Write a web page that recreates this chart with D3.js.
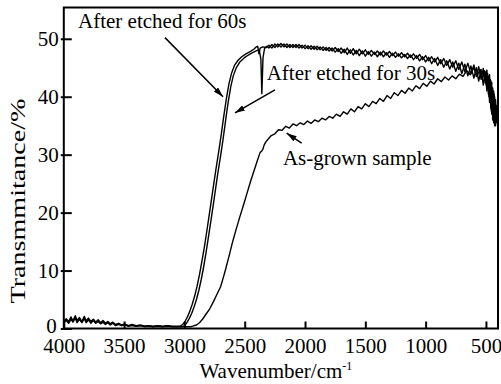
<!DOCTYPE html>
<html>
<head>
<meta charset="utf-8">
<script src="https://cdn.jsdelivr.net/npm/d3@7"></script>
<style>
  body { margin: 0; background: #fff; }
  svg { display: block; font-family: "Liberation Serif", "Times New Roman", serif; }
</style>
</head>
<body>
<div id="chart"></div>
<script>
// wavenumber (cm-1), transmittance (%)
const etched60 = [
  [4000,1.3],[3980,1.7],[3960,1.2],[3940,2.0],[3925,1.3],[3905,2.2],[3890,1.4],[3870,1.9],[3850,1.2],[3830,2.1],
  [3815,1.3],[3795,1.8],[3775,1.2],[3755,1.6],[3735,1.1],[3715,1.5],[3695,1.0],[3675,1.4],[3655,0.9],[3635,1.2],
  [3615,0.8],[3595,1.1],[3570,0.7],[3545,0.9],[3520,0.6],[3495,0.8],[3465,0.5],[3435,0.7],[3400,0.5],[3365,0.6],
  [3330,0.4],[3295,0.5],[3260,0.4],[3220,0.5],[3180,0.4],[3140,0.5],[3100,0.4],[3060,0.4],[3035,0.4],
  [3015,0.7],[2995,1.2],[2975,2.0],[2955,3.0],[2935,4.2],[2915,5.6],[2895,7.3],[2875,9.3],[2855,11.6],[2835,14.0],
  [2815,16.7],[2790,20.2],[2765,23.8],[2740,27.3],[2715,30.6],[2695,33.4],[2678,36.0],[2662,38.3],[2648,40.2],
  [2630,42.3],[2610,44.0],[2585,45.4],[2555,46.3],[2525,46.9],[2490,47.4],[2455,47.8],[2425,48.2],[2405,48.6],
  [2392,48.7],[2382,47.4],[2372,48.4],[2350,48.6],[2320,48.5],
  [2300,48.9],[2275,48.4],[2250,49.1],[2225,48.6],[2200,49.2],[2175,48.6],[2150,49.1],[2125,48.5],[2100,49.0],
  [2075,48.5],[2050,49.0],[2025,48.4],[2000,48.9],[1975,48.3],[1950,48.8],[1925,48.2],[1900,48.7],[1875,48.1],
  [1850,48.6],[1825,48.0],[1800,48.5],[1775,47.9],[1750,48.5],[1725,47.8],[1700,48.4],[1675,47.6],[1650,48.4],
  [1625,47.5],[1600,48.3],[1575,47.4],[1550,48.2],[1525,47.4],[1500,48.1],[1475,47.3],[1450,48.0],[1425,47.3],
  [1400,47.9],[1375,47.2],[1350,47.9],[1325,47.2],[1300,47.8],[1275,47.1],[1250,47.7],[1225,47.0],[1200,47.6],
  [1175,46.9],[1150,47.5],[1125,46.8],[1100,47.4],[1075,46.6],[1050,47.3],[1025,46.4],[1000,47.1],[975,46.2],
  [950,46.9],[925,46.0],[900,46.8],[875,45.7],[850,46.6],[825,45.4],[800,46.4],[775,45.1],[750,46.2],[725,44.7],
  [700,46.0],[675,44.3],[650,45.8],[625,43.9],[600,45.5],[580,43.5],[560,45.2],[540,43.0],[522,44.9],[506,42.4],
  [492,44.6],[480,40.5],[470,43.8],[460,38.0],[452,42.5],[444,36.0],[436,41.0],[428,35.0],[420,39.5],[413,35.5],
  [406,38.0],[400,36.5]
];

const etched30 = [
  [4000,1.0],[3980,1.4],[3960,0.9],[3940,1.6],[3925,1.1],[3905,1.8],[3890,1.0],[3870,1.6],[3850,1.0],[3830,1.7],
  [3815,1.0],[3795,1.5],[3775,0.9],[3755,1.4],[3735,0.9],[3715,1.2],[3695,0.8],[3675,1.1],[3655,0.7],[3635,1.0],
  [3615,0.6],[3595,0.9],[3570,0.5],[3545,0.7],[3520,0.5],[3495,0.6],[3465,0.4],[3435,0.5],[3400,0.4],[3365,0.5],
  [3330,0.3],[3295,0.4],[3260,0.3],[3220,0.4],[3180,0.3],[3140,0.4],[3100,0.3],[3060,0.3],[3020,0.3],
  [3000,0.5],[2980,1.0],[2960,1.7],[2940,2.6],[2920,3.7],[2900,5.0],[2880,6.6],[2860,8.5],[2840,10.7],[2820,13.2],
  [2800,15.9],[2775,19.3],[2750,22.9],[2725,26.5],[2700,29.8],[2680,32.6],[2663,35.2],[2648,37.5],[2633,39.6],
  [2615,41.8],[2595,43.6],[2570,45.0],[2540,46.0],[2505,46.7],[2470,47.2],[2435,47.6],[2405,47.9],[2380,48.1],
  [2366,46.5],[2358,40.5],[2348,46.8],[2335,48.4],[2315,48.7],
  [2300,48.4],[2275,49.0],[2250,48.5],[2225,49.1],[2200,48.6],[2175,49.1],[2150,48.5],[2125,49.0],[2100,48.5],
  [2075,49.0],[2050,48.4],[2025,48.9],[2000,48.3],[1975,48.8],[1950,48.2],[1925,48.7],[1900,48.1],[1875,48.6],
  [1850,48.0],[1825,48.5],[1800,47.9],[1775,48.4],[1750,47.7],[1725,48.3],[1700,47.5],[1675,48.2],[1650,47.3],
  [1625,48.1],[1600,47.2],[1575,48.0],[1550,47.1],[1525,47.9],[1500,47.0],[1475,47.8],[1450,47.0],[1425,47.7],
  [1400,46.9],[1375,47.7],[1350,46.9],[1325,47.6],[1300,46.8],[1275,47.5],[1250,46.8],[1225,47.4],[1200,46.7],
  [1175,47.3],[1150,46.6],[1125,47.2],[1100,46.4],[1075,47.1],[1050,46.2],[1025,46.9],[1000,46.0],[975,46.8],
  [950,45.7],[925,46.6],[900,45.4],[875,46.4],[850,45.1],[825,46.2],[800,44.8],[775,46.0],[750,44.4],[725,45.8],
  [700,44.0],[675,45.6],[650,43.6],[625,45.3],[600,43.2],[580,45.0],[560,42.7],[540,44.7],[522,42.0],[506,44.3],
  [492,41.0],[480,43.6],[470,39.0],[460,42.8],[452,37.0],[444,41.5],[436,35.5],[428,40.0],[420,35.0],[413,38.5],
  [406,35.8],[400,37.5]
];

const asGrown = [
  [4000,1.1],[3980,1.5],[3960,1.0],[3940,1.8],[3925,1.2],[3905,1.9],[3890,1.2],[3870,1.7],[3850,1.1],[3830,1.9],
  [3815,1.2],[3795,1.6],[3775,1.1],[3755,1.5],[3735,1.0],[3715,1.3],[3695,0.9],[3675,1.2],[3655,0.8],[3635,1.1],
  [3615,0.7],[3595,1.0],[3570,0.6],[3545,0.8],[3520,0.5],[3495,0.7],[3465,0.4],[3435,0.6],[3400,0.4],[3365,0.5],
  [3330,0.4],[3295,0.4],[3260,0.3],[3220,0.4],[3180,0.3],[3140,0.4],[3100,0.3],[3060,0.3],[3020,0.3],[2980,0.3],
  [2950,0.3],[2930,0.4],[2900,0.6],[2875,1.0],[2850,1.6],[2820,2.5],[2790,3.4],[2760,4.6],[2730,5.9],[2700,7.2],
  [2680,8.6],[2660,10.1],[2630,12.5],[2600,15.0],[2570,17.2],[2540,19.3],[2510,21.3],[2480,23.4],[2450,25.5],
  [2420,27.4],[2395,29.0],[2372,30.4],[2360,30.6],[2350,30.9],[2340,31.6],[2325,32.2],[2305,32.7],
  [2280,33.3],[2250,33.6],[2220,34.3],[2190,34.2],[2160,34.9],[2130,34.6],[2100,35.3],[2070,35.0],[2040,35.5],
  [2010,35.2],[1980,35.8],[1950,35.4],[1920,36.0],[1890,35.7],[1860,36.3],[1830,36.0],[1800,36.6],[1770,36.3],
  [1740,37.0],[1710,36.6],[1680,37.4],[1650,37.0],[1620,37.9],[1590,37.4],[1560,38.3],[1530,37.9],[1500,38.8],
  [1470,38.3],[1440,39.2],[1410,38.8],[1380,39.7],[1350,39.2],[1320,40.2],[1290,39.7],[1260,40.7],[1230,40.2],
  [1200,41.1],[1170,40.6],[1140,41.5],[1110,41.0],[1080,41.9],[1050,41.4],[1020,42.3],[990,41.8],[960,42.7],
  [930,42.2],[900,43.1],[870,42.6],[840,43.4],[810,42.9],[780,43.6],[750,43.1],[720,43.9],[690,43.5],[660,44.5],
  [630,43.8],[600,45.0],[575,43.5],[550,44.7],[530,43.0],[512,44.5],[498,42.0],[486,44.0],[475,40.0],[465,43.0],
  [455,37.5],[447,41.5],[440,36.0],[432,40.5],[424,35.5],[416,38.5],[408,36.0],[400,37.0]
];

const series = [etched60, etched30, asGrown];
const xTicks = [4000, 3500, 3000, 2500, 2000, 1500, 1000, 500];
const yTicks = [0, 10, 20, 30, 40, 50];

// annotations: text anchor and arrow (tail -> head) in data units
const notes = [
  { text: 'After etched for 60s', at: [3882, 51.9], from: [3161, 50.2], to: [2680, 40.0] },
  { text: 'After etched for 30s', at: [2318, 42.9], from: [2249, 41.2], to: [2581, 37.2] },
  { text: 'As-grown sample', at: [2183, 28.2], from: [2028, 32.0], to: [2152, 33.7] }
];

const width = 501;
const height = 384;
const margin = { top: 7.5, right: 3, bottom: 55.5, left: 63.8 };

const svg = d3.select('#chart').append('svg').attr('width', width).attr('height', height);

svg.append('defs')
  .append('marker')
  .attr('id', 'arrow')
  .attr('viewBox', '0 0 10 6')
  .attr('refX', 10)
  .attr('refY', 3)
  .attr('markerWidth', 10)
  .attr('markerHeight', 6)
  .attr('markerUnits', 'userSpaceOnUse')
  .attr('orient', 'auto')
  .append('path')
  .attr('d', 'M0,0 L10,3 L0,6 Z')
  .attr('fill', '#000');

const x = d3.scaleLinear().domain([4000, 400]).range([margin.left, width - margin.right]);
const y = d3.scaleLinear().domain([0, 55.4]).range([height - margin.bottom, margin.top]);

// curves
const line = d3.line().x((d) => x(d[0])).y((d) => y(d[1]));
svg.append('g')
  .selectAll('path')
  .data(series)
  .enter()
  .append('path')
  .attr('d', line)
  .attr('fill', 'none')
  .attr('stroke', '#000')
  .attr('stroke-width', 1.4)
  .attr('stroke-linejoin', 'round');

// axes, ticks point inward
const xAxis = svg.append('g')
  .attr('transform', `translate(0,${y(0)})`)
  .call(d3.axisBottom(x).tickValues(xTicks).tickSizeInner(-7).tickSizeOuter(0).tickPadding(10).tickFormat(d3.format('d')));
const yAxis = svg.append('g')
  .attr('transform', `translate(${x(4000)},0)`)
  .call(d3.axisLeft(y).tickValues(yTicks).tickSizeInner(-8).tickSizeOuter(0).tickPadding(5).tickFormat(d3.format('d')));

[xAxis, yAxis].forEach((g) => {
  g.select('.domain').remove();
  g.selectAll('.tick line').attr('stroke', '#000').attr('stroke-width', 2);
  g.selectAll('.tick text')
    .attr('fill', '#000')
    .style('font-family', '"Liberation Serif", serif')
    .style('font-size', '21px');
});
// small outward stub on y ticks
yAxis.selectAll('.tick').append('line').attr('x1', 0).attr('x2', -3).attr('stroke', '#000').attr('stroke-width', 2);
yAxis.selectAll('.tick text').filter((d) => d === 0).attr('dy', '0.2em').attr('x', -7);

// frame
svg.append('rect')
  .attr('x', x(4000))
  .attr('y', y(55.4))
  .attr('width', x(400) - x(4000))
  .attr('height', y(0) - y(55.4))
  .attr('fill', 'none')
  .attr('stroke', '#000')
  .attr('stroke-width', 2);

// axis titles
svg.append('text')
  .attr('transform', `translate(25,${(y(0) + y(55.4)) / 2 + 33}) rotate(-90)`)
  .attr('text-anchor', 'middle')
  .attr('textLength', 205)
  .attr('lengthAdjust', 'spacingAndGlyphs')
  .style('font-size', '21px')
  .text('Transmmitance/%');

const xTitle = svg.append('text')
  .attr('x', (x(4000) + x(400)) / 2 - 5)
  .attr('y', 378)
  .attr('text-anchor', 'middle')
  .style('font-size', '21px');
xTitle.append('tspan').text('Wavenumber/cm');
xTitle.append('tspan').attr('dy', -8).style('font-size', '12px').text('-1');

// annotations
const ann = svg.append('g');
ann.selectAll('line')
  .data(notes)
  .enter()
  .append('line')
  .attr('x1', (d) => x(d.from[0]))
  .attr('y1', (d) => y(d.from[1]))
  .attr('x2', (d) => x(d.to[0]))
  .attr('y2', (d) => y(d.to[1]))
  .attr('stroke', '#000')
  .attr('stroke-width', 1.5)
  .attr('marker-end', 'url(#arrow)');
ann.selectAll('text')
  .data(notes)
  .enter()
  .append('text')
  .attr('x', (d) => x(d.at[0]))
  .attr('y', (d) => y(d.at[1]))
  .style('font-size', '21px')
  .text((d) => d.text);
</script>
</body>
</html>
